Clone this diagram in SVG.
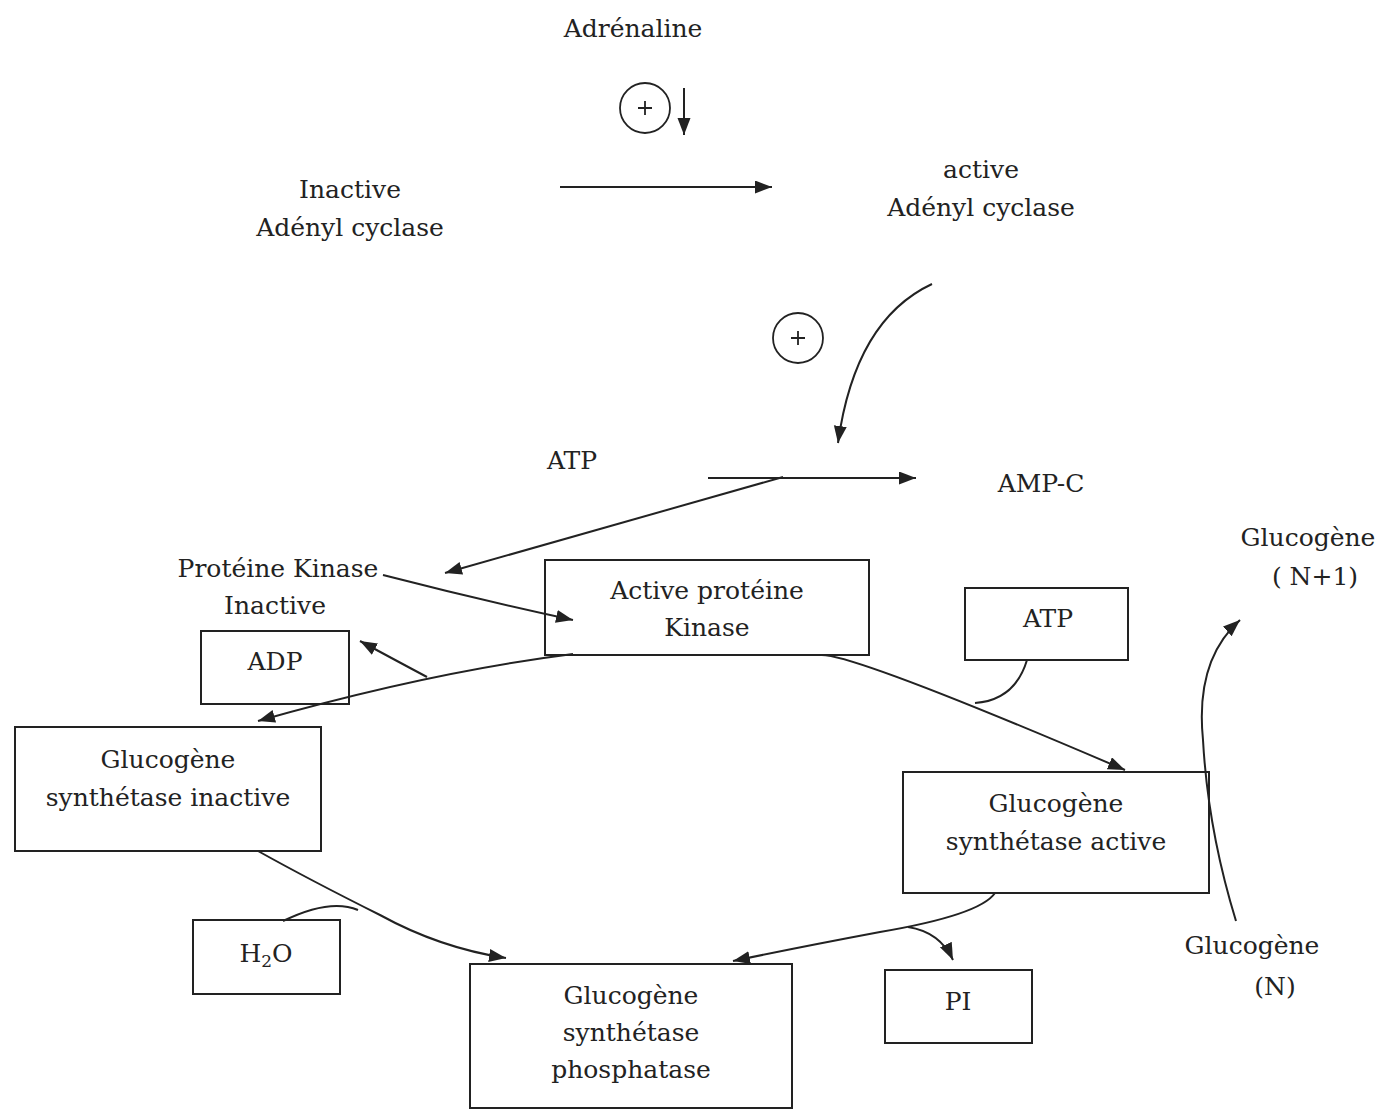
<svg xmlns="http://www.w3.org/2000/svg" width="1387" height="1110" viewBox="0 0 1387 1110">
<style>
text{font-family:"DejaVu Serif","Liberation Serif",serif;font-size:25px;fill:#222;text-anchor:middle}
.box{fill:none;stroke:#222;stroke-width:2}
.ln{fill:none;stroke:#222;stroke-width:2}
.arr{fill:none;stroke:#222;stroke-width:2;marker-end:url(#ah)}
.plus{fill:none;stroke:#222;stroke-width:1.8}
</style>
<defs>
<marker id="ah" markerUnits="userSpaceOnUse" markerWidth="20" markerHeight="14" refX="17" refY="6.5" orient="auto">
<path d="M0,0 L17,6.5 L0,13 z" fill="#222"/>
</marker>
</defs>
<rect width="1387" height="1110" fill="#fff"/>

<g id="adrenaline"><text x="633" y="37">Adrénaline</text></g>
<g id="plus1"><circle class="plus" cx="645" cy="108" r="25"/><path class="plus" d="M638,108 H652 M645,101 V115"/></g>
<g id="inactive-ac"><text x="350" y="198">Inactive</text><text x="350" y="236">Adényl cyclase</text></g>
<g id="active-ac"><text x="981" y="178">active</text><text x="981" y="216">Adényl cyclase</text></g>
<g id="plus2"><circle class="plus" cx="798" cy="338" r="25"/><path class="plus" d="M791,338 H805 M798,331 V345"/></g>
<g id="atp1"><text x="572" y="469">ATP</text></g>
<g id="ampc"><text x="1041" y="492">AMP-C</text></g>
<g id="pk-inactive"><text x="278" y="577">Protéine Kinase</text><text x="275" y="614">Inactive</text></g>
<g id="pk-active"><rect class="box" x="545" y="560" width="324" height="95"/><text x="707" y="599">Active protéine</text><text x="707" y="636">Kinase</text></g>
<g id="atp2"><rect class="box" x="965" y="588" width="163" height="72"/><text x="1048" y="627">ATP</text></g>
<g id="adp"><rect class="box" x="201" y="631" width="148" height="73"/><text x="275" y="670">ADP</text></g>
<g id="gs-inactive"><rect class="box" x="15" y="727" width="306" height="124"/><text x="168" y="768">Glucogène</text><text x="168" y="806">synthétase inactive</text></g>
<g id="gs-active"><rect class="box" x="903" y="772" width="306" height="121"/><text x="1056" y="812">Glucogène</text><text x="1056" y="850">synthétase active</text></g>
<g id="h2o"><rect class="box" x="193" y="920" width="147" height="74"/><text x="266" y="962">H<tspan font-size="17" dy="5">2</tspan><tspan dy="-5">O</tspan></text></g>
<g id="gs-phosphatase"><rect class="box" x="470" y="964" width="322" height="144"/><text x="631" y="1004">Glucogène</text><text x="631" y="1041">synthétase</text><text x="631" y="1078">phosphatase</text></g>
<g id="pi"><rect class="box" x="885" y="970" width="147" height="73"/><text x="958" y="1010">PI</text></g>
<g id="glyc-n"><text x="1252" y="954">Glucogène</text><text x="1275" y="995">(N)</text></g>
<g id="glyc-n1"><text x="1308" y="546">Glucogène</text><text x="1315" y="585">( N+1)</text></g>

<g id="connectors">
<path class="arr" d="M684,88 V135"/>
<path class="arr" d="M560,187 H772"/>
<path class="arr" d="M932,284 Q855,320 838,443"/>
<path class="arr" d="M708,478 H916"/>
<path class="arr" d="M783,477 L445,573"/>
<path class="arr" d="M383,575 Q480,600 573,620"/>
<path class="arr" d="M573,654 Q430,672 258,721"/>
<path class="arr" d="M427,677 Q395,660 360,641"/>
<path class="arr" d="M820,655 Q850,652 1125,770"/>
<path class="ln" d="M1027,660 Q1015,700 975,703"/>
<path class="arr" d="M258,851 Q310,880 380,915 Q440,948 506,958"/>
<path class="ln" d="M283,921 Q330,898 358,910"/>
<path class="arr" d="M995,893 Q980,915 880,932 Q800,947 733,961"/>
<path class="arr" d="M908,927 Q940,932 953,960"/>
<path class="arr" d="M1236,921 Q1208,830 1203,740 Q1195,660 1240,620"/>
</g>
</svg>
